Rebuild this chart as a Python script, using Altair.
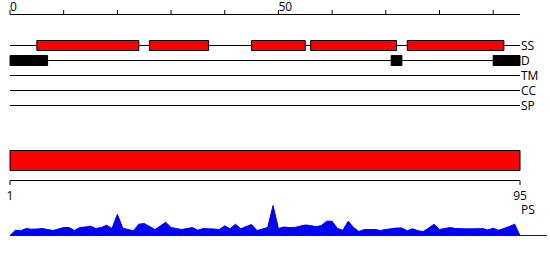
import altair as alt
import pandas as pd

# ---- data ----
tracks = ["SS", "D", "TM", "CC", "SP"]
ss_start = [5, 26, 45, 56, 74]
ss_end = [24, 37, 55, 72, 92]
d_start = [0, 71, 90]
d_end = [7, 73, 95]
seq_length = 95
top_ticks = [0, 10, 20, 30, 40, 50, 60, 70, 80, 90]
top_label_pos = [0, 50]
top_label_text = ["0", "50"]
bottom_ticks = [1, 95]
bottom_labels = ["1", "95"]
ps_values = [
    0, 5.3, 4.7, 7, 6.3, 6.5, 7, 6, 5, 6.5,
    8, 8, 5, 8, 8.5, 9.3, 7, 8, 10.3, 7,
    21.3, 7.3, 6, 4.7, 11.3, 12, 9, 6, 9.5, 13.3,
    8, 7, 6, 7, 8, 5.3, 7, 6.7, 6.5, 6,
    9.7, 6.7, 11.3, 6.7, 9, 11, 5, 6.5, 8, 30,
    7, 8.5, 8, 8, 9.3, 10.5, 10, 8.7, 10, 14.3,
    14.3, 7, 5.3, 14.3, 8, 4, 6, 6, 6, 5,
    6, 6.7, 7.5, 7.5, 4.7, 6.7, 4.7, 4, 7.5, 11.3,
    6, 7, 8, 7, 6.8, 6.7, 6.7, 6.7, 7, 5.5,
    7.3, 5.3, 7, 9, 11.3, 0, 0, 0, 0, 0, 0,
]

FONT = "Open Sans"
FS = 12

# ---- tables ----
df_tracks = pd.DataFrame({"name": tracks, "idx": list(range(len(tracks))),
                          "start": 0, "end": seq_length})
df_boxes = pd.concat([
    pd.DataFrame({"idx": 0, "start": ss_start, "end": ss_end, "fill": "#ff0000"}),
    pd.DataFrame({"idx": 1, "start": d_start, "end": d_end, "fill": "#000000"}),
], ignore_index=True)
df_topaxis = pd.DataFrame({"s": [0], "e": [seq_length]})
df_topticks = pd.DataFrame({"t": top_ticks})
df_toplabels = pd.DataFrame({"t": top_label_pos, "lab": top_label_text})
df_bot = pd.DataFrame({"s": [bottom_ticks[0]], "e": [bottom_ticks[-1]]})
df_botticks = pd.DataFrame({"t": bottom_ticks, "lab": bottom_labels})
df_ps = pd.DataFrame({"pos": list(range(len(ps_values))), "val": ps_values})
df_pslab = pd.DataFrame({"t": [bottom_ticks[-1]], "lab": ["PS"]})

# ---- scales ----
def xs_top():
    return alt.Scale(domain=[0, seq_length], range=[10, 520], nice=False, zero=False)

def xs_bot():
    return alt.Scale(domain=[bottom_ticks[0], bottom_ticks[-1]], range=[10, 520], nice=False, zero=False)

def ys_tracks():
    return alt.Scale(domain=[0, 4], range=[45.5, 105.5], nice=False, zero=False)

# ---- layers ----
top_line = alt.Chart(df_topaxis).mark_rule(color="black", strokeWidth=1).encode(
    x=alt.X("s:Q", scale=xs_top(), axis=None), x2="e:Q", y=alt.value(14.5))
top_ticks_l = alt.Chart(df_topticks).mark_rule(color="black", strokeWidth=1).encode(
    x=alt.X("t:Q", scale=xs_top(), axis=None), y=alt.value(10), y2=alt.value(14.5))
top_labels_l = alt.Chart(df_toplabels).mark_text(
    align="left", baseline="alphabetic", font=FONT, fontSize=FS, color="black").encode(
    x=alt.X("t:Q", scale=xs_top(), axis=None), y=alt.value(10.5), text="lab:N")

track_lines = alt.Chart(df_tracks).mark_rule(color="black", strokeWidth=1).encode(
    x=alt.X("start:Q", scale=xs_top(), axis=None), x2="end:Q",
    y=alt.Y("idx:Q", scale=ys_tracks(), axis=None))
track_labels = alt.Chart(df_tracks).mark_text(
    align="left", baseline="middle", dx=1, font=FONT, fontSize=FS, color="black").encode(
    x=alt.X("end:Q", scale=xs_top(), axis=None),
    y=alt.Y("idx:Q", scale=ys_tracks(), axis=None), text="name:N")
boxes = alt.Chart(df_boxes).transform_calculate(
    lo="datum.idx - 1/3", hi="datum.idx + 1/3").mark_rect(
    stroke="black", strokeWidth=1).encode(
    x=alt.X("start:Q", scale=xs_top(), axis=None), x2="end:Q",
    y=alt.Y("lo:Q", scale=ys_tracks(), axis=None), y2="hi:Q",
    fill=alt.Fill("fill:N", scale=None))

bot_bar = alt.Chart(df_bot).mark_rect(fill="#ff0000", stroke="black", strokeWidth=1).encode(
    x=alt.X("s:Q", scale=xs_bot(), axis=None), x2="e:Q",
    y=alt.value(150.5), y2=alt.value(170.5))
bot_line = alt.Chart(df_bot).mark_rule(color="black", strokeWidth=1).encode(
    x=alt.X("s:Q", scale=xs_bot(), axis=None), x2="e:Q", y=alt.value(180.5))
bot_ticks = alt.Chart(df_botticks).mark_rule(color="black", strokeWidth=1).encode(
    x=alt.X("t:Q", scale=xs_bot(), axis=None), y=alt.value(180.5), y2=alt.value(185))
bot_labels = alt.Chart(df_botticks).mark_text(
    align="center", baseline="alphabetic", font=FONT, fontSize=FS, color="black").encode(
    x=alt.X("t:Q", scale=xs_bot(), axis=None), y=alt.value(200), text="lab:N")
ps_label = alt.Chart(df_pslab).mark_text(
    align="left", baseline="middle", dx=1, font=FONT, fontSize=FS, color="black").encode(
    x=alt.X("t:Q", scale=xs_bot(), axis=None), y=alt.value(210), text="lab:N")

ps_area = alt.Chart(df_ps).mark_area(
    fill="#0000ff", stroke="#0000ff", strokeWidth=1, interpolate="linear").encode(
    x=alt.X("pos:Q", scale=xs_top(), axis=None),
    y=alt.Y("val:Q", scale=alt.Scale(domain=[0, 40], range=[235.5, 195.5], nice=False, zero=False), axis=None))

chart = alt.layer(
    top_line, top_ticks_l, top_labels_l,
    track_lines, boxes, track_labels,
    bot_bar, bot_line, bot_ticks, bot_labels, ps_label,
    ps_area,
).resolve_scale(x="independent", y="independent").properties(
    width=550, height=260, autosize=alt.AutoSizeParams(type="none"), padding=0,
    background="white",
).configure_view(stroke=None)

chart.save("out.html", embed_options={"renderer": "svg", "actions": False})
